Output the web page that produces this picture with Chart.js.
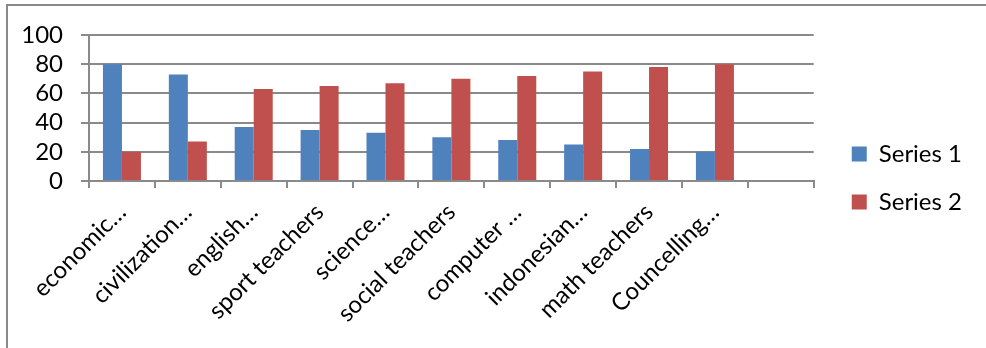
<!DOCTYPE html>
<html>
<head>
<meta charset="utf-8">
<script src="https://cdn.jsdelivr.net/npm/chart.js@4.4.1/dist/chart.umd.min.js"></script>
<style>
  html, body { margin: 0; padding: 0; overflow: hidden; background: #fff; }
  #frame { position: absolute; left: 6px; top: 4px; width: 1100px; height: 500px; border: 2px solid #8a8a8a; }
  #wrap { position: absolute; left: 0; top: 0; width: 986px; height: 348px; }
</style>
</head>
<body>
<div id="frame"></div>
<div id="wrap"><canvas id="chart" width="986" height="348"></canvas></div>
<script>
// categories (last slot is empty, as in the original)
const categories = ['economic…', 'civilization…', 'english…', 'sport teachers', 'science…',
  'social teachers', 'computer …', 'indonesian…', 'math teachers', 'Councelling…', ''];
const series1 = [80, 73, 37, 35, 33, 30, 28, 25, 22, 20, null];
const series2 = [20, 27, 63, 65, 67, 70, 72, 75, 78, 80, null];
const seriesNames = ['Series 1', 'Series 2'];
const yMin = 0, yMax = 100, yStep = 20;

const blue = '#4f81bd';
const red = '#c0504d';
const axisGray = '#8a8a8a';
const font = { family: 'Lato', size: 24 };

Chart.defaults.color = '#000';
Chart.defaults.font.family = 'Lato';

// invisible axis used only to reserve space
function spacer(position, size) {
  return {
    position: position,
    display: true,
    grid: { display: false },
    border: { display: false },
    ticks: { display: false },
    afterFit(scale) {
      if (position === 'top') scale.height = size; else scale.width = size;
    }
  };
}

new Chart(document.getElementById('chart'), {
  type: 'bar',
  data: {
    labels: categories,
    datasets: [
      { label: seriesNames[0], data: series1, backgroundColor: blue },
      { label: seriesNames[1], data: series2, backgroundColor: red }
    ]
  },
  options: {
    responsive: false,
    animation: false,
    events: [],
    categoryPercentage: 0.577,
    barPercentage: 1,
    layout: { padding: { top: 8, bottom: 0, left: 0, right: 14 } },
    plugins: {
      legend: {
        position: 'right',
        labels: { boxWidth: 15, boxHeight: 15, padding: 24, font: font, color: '#000' }
      },
      tooltip: { enabled: false }
    },
    scales: {
      x: {
        grid: { drawOnChartArea: false, drawTicks: true, tickLength: 7, color: axisGray, lineWidth: 2 },
        border: { color: axisGray, width: 2 },
        ticks: { font: font, color: '#000', minRotation: 45, maxRotation: 45, autoSkip: false, padding: 10, labelOffset: 0 },
        afterFit(scale) { scale.height = 167; }
      },
      y: {
        min: yMin, max: yMax,
        grid: { color: axisGray, lineWidth: 2, tickLength: 8 },
        border: { color: axisGray, width: 2 },
        ticks: { stepSize: yStep, autoSkip: false, font: font, color: '#000', padding: 18 },
        afterFit(scale) { scale.width = 89; }
      },
      topGap: spacer('top', 27),
      rightGap: spacer('right', 14)
    }
  }
});
</script>
</body>
</html>
